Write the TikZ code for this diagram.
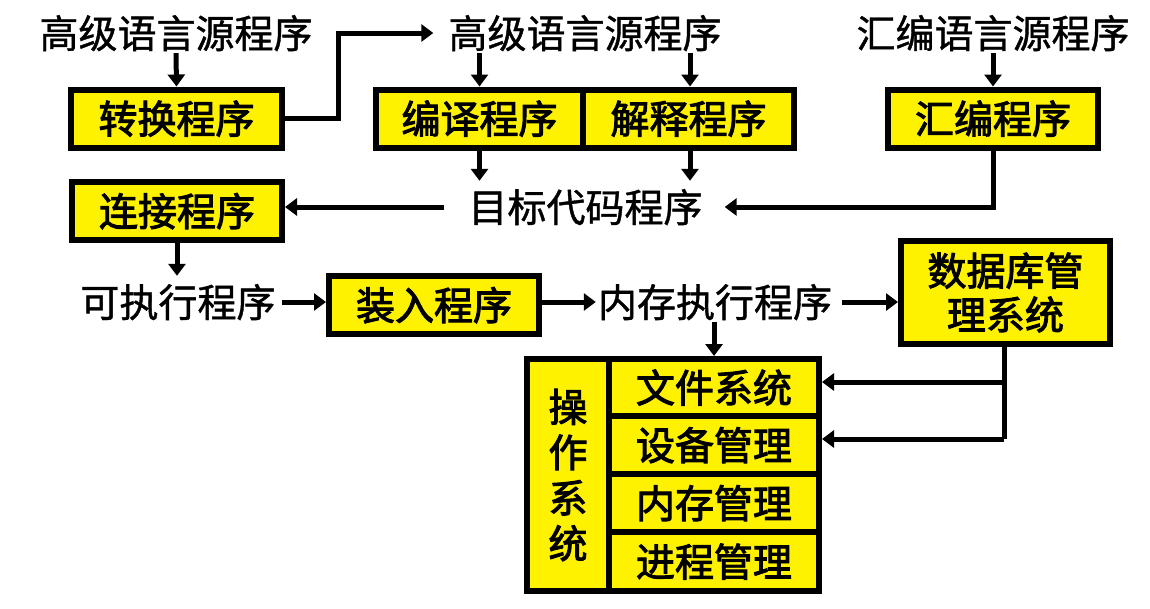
\documentclass[tikz,border=0pt]{standalone}
\usepackage{fontspec}
\usetikzlibrary{arrows.meta,calc}
\newfontfamily\cjkplain{Noto Sans CJK SC}[FakeBold=1]
\newfontfamily\cjkbold{Noto Sans CJK SC}[FakeBold=2.5]
\tikzset{
  txt/.style={inner sep=0pt, text height=35pt, text depth=5pt, font=\cjkplain\fontsize{39}{46}\selectfont},
  ybox/.style={draw=black, line width=6pt, fill=yellow, inner sep=0pt, text height=35pt, text depth=5pt, font=\cjkbold\fontsize{39}{46}\selectfont},
  multibox/.style={ybox, text height={}, text depth={}, align=center},
  conn/.style={line width=5pt, -{Triangle[length=12pt,width=17pt]}},
  plainline/.style={line width=5pt}
}
\begin{document}
\begin{tikzpicture}[x=1pt,y=-1pt]
\useasboundingbox[fill=white] (0,0) rectangle (1150,608);
% plain texts
\node[txt] (t1) at (176,33) {高级语言源程序};
\node[txt] (t2) at (585,33) {高级语言源程序};
\node[txt] (t6) at (993,33) {汇编语言源程序};
\node[txt] (t3) at (585.5,207) {目标代码程序};
\node[txt] (t4) at (178,302) {可执行程序};
\node[txt] (t5) at (715,302) {内存执行程序};
% boxes
\node[ybox, minimum width=211pt, minimum height=58pt] (zh) at (176.5,118.5) {转换程序};
\node[ybox, minimum width=207pt, minimum height=58pt] (by) at (479.5,118.5) {编译程序};
\node[ybox, minimum width=211pt, minimum height=58pt] (js) at (688.5,118.5) {解释程序};
\node[ybox, minimum width=210pt, minimum height=58pt] (hb) at (993,118.5) {汇编程序};
\node[ybox, minimum width=210pt, minimum height=58pt] (lj) at (177,211) {连接程序};
\node[ybox, minimum width=210pt, minimum height=58pt] (zr) at (434,305) {装入程序};
\node[multibox, minimum width=209pt, minimum height=103pt, font=\cjkbold\fontsize{39}{44}\selectfont] (db) at (1005.5,292.5) {数据库管\\理系统};
% operating system block
\node[multibox, minimum width=82pt, minimum height=232pt, font=\cjkbold\fontsize{39}{45.5}\selectfont] (os) at (568,475) {操\\作\\系\\统};
\node[ybox, minimum width=210pt, minimum height=57pt] (r1) at (714,387.5) {文件系统};
\node[ybox, minimum width=210pt, minimum height=58pt] (r2) at (714,445) {设备管理};
\node[ybox, minimum width=210pt, minimum height=58pt] (r3) at (714,503) {内存管理};
\node[ybox, minimum width=210pt, minimum height=59pt] (r4) at (714,561.5) {进程管理};
% connectors
\draw[conn] (t1.south) -- (zh.north);
\draw[conn, shorten >=15pt] (zh.east) -- ++(53,0) |- (t2.west);
\draw[conn] (by.north |- t2.south) -- (by.north);
\draw[conn] ([xshift=1.5pt]js.north |- t2.south) -- ([xshift=1.5pt]js.north);
\draw[conn] (t6.south) -- (hb.north);
\draw[conn, shorten >=6pt] (by.south) -- (by.south |- t3.north);
\draw[conn, shorten >=6pt] ([xshift=1.5pt]js.south) -- ([xshift=1.5pt]js.south |- t3.north);
\draw[conn, shorten >=22pt] (hb.south) |- (t3.east);
\draw[conn, shorten <=24pt] (t3.west) -- (t3.west -| lj.east);
\draw[conn, shorten >=6pt] (lj.south) -- (lj.south |- t4.north);
\draw[conn, shorten <=6pt] (t4.east) -- (t4.east -| zr.west);
\draw[conn, shorten >=2pt] (zr.east |- t5.west) -- (t5.west);
\draw[conn, shorten <=10pt] (t5.east) -- (t5.east -| db.west);
\draw[conn] (t5.south -| r1.north) -- (r1.north);
\coordinate (a1) at ([yshift=5.5pt]r1.east);
\coordinate (a2) at ([yshift=6pt]r2.east);
\draw[plainline] ([xshift=-1.5pt]db.south) -- ([xshift=-1.5pt]db.south |- a2);
\draw[conn] ([xshift=-1.5pt]db.south |- a1) -- (a1);
\draw[conn] ([xshift=-1.5pt]db.south |- a2) -- (a2);
\end{tikzpicture}
\end{document}
